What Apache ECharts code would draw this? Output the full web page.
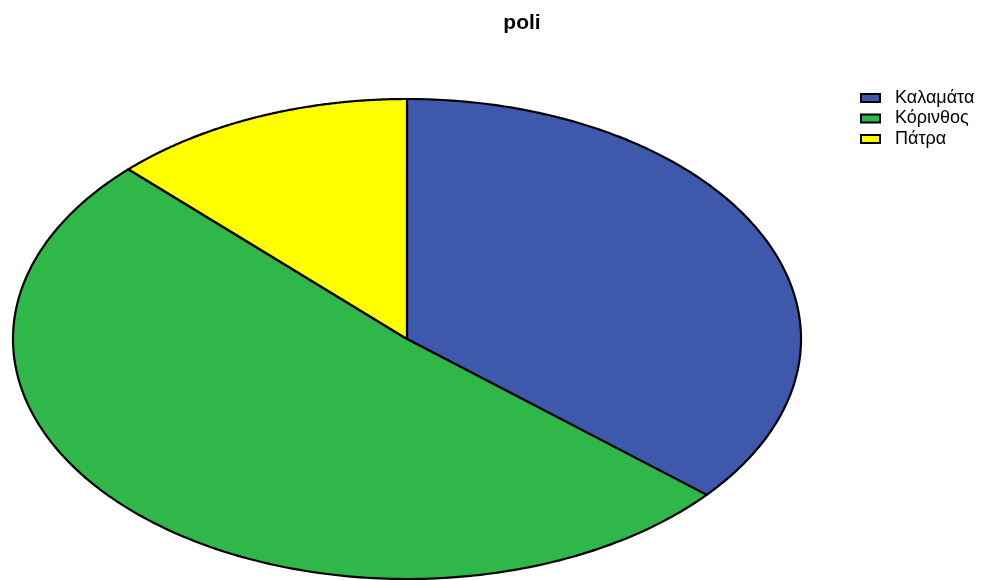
<!DOCTYPE html>
<html>
<head>
<meta charset="utf-8">
<script src="https://cdn.jsdelivr.net/npm/echarts@6/dist/echarts.min.js"></script>
<style>html,body{margin:0;padding:0;background:#fff}#c{width:981px;height:580px}</style>
</head>
<body>
<div id="c"></div>
<script>
var categories = ['Καλαμάτα', 'Κόρινθος', 'Πάτρα'];
var values = [29, 41, 10];
var colors = ['#3e59ac', '#30b74a', '#ffff00'];

var total = values.reduce(function (a, b) { return a + b; }, 0);
var cum = 0;
var series = categories.map(function (name, i) {
  var s = cum / total;
  cum += values[i];
  var e = cum / total;
  return {
    type: 'custom',
    name: name,
    coordinateSystem: 'cartesian2d',
    clip: false,
    itemStyle: { color: colors[i], borderColor: '#000', borderWidth: 2 },
    data: [[s, e]],
    renderItem: function (params, api) {
      var a = api.value(0), b = api.value(1);
      var pts = [api.coord([0, 0])];
      var N = 200;
      for (var k = 0; k <= N; k++) {
        var t = a + (b - a) * k / N;
        var th = 2 * Math.PI * t;
        pts.push(api.coord([Math.sin(th), Math.cos(th)]));
      }
      return {
        type: 'polygon',
        shape: { points: pts },
        style: { fill: colors[i], stroke: '#000', lineWidth: 2.2, lineJoin: 'round' }
      };
    }
  };
});

var chart = echarts.init(document.getElementById('c'));
chart.setOption({
  animation: false,
  title: {
    text: 'poli', left: 522, top: 13, textAlign: 'center', padding: 0,
    textStyle: { fontFamily: 'Liberation Sans', fontSize: 21, fontWeight: 'bold', color: '#000' }
  },
  legend: {
    orient: 'vertical', left: 860, top: 89, padding: 0,
    itemWidth: 19, itemHeight: 8, itemGap: 2.5,
    icon: 'rect',
    itemStyle: { borderColor: '#000', borderWidth: 2 },
    textStyle: { fontFamily: 'Liberation Sans', fontSize: 18, color: '#000', padding: [3, 0, 0, 10] },
    data: categories
  },
  grid: { left: 13, top: 99, width: 788, height: 480 },
  xAxis: { type: 'value', min: -1, max: 1, show: false },
  yAxis: { type: 'value', min: -1, max: 1, show: false },
  series: series
});
</script>
</body>
</html>
